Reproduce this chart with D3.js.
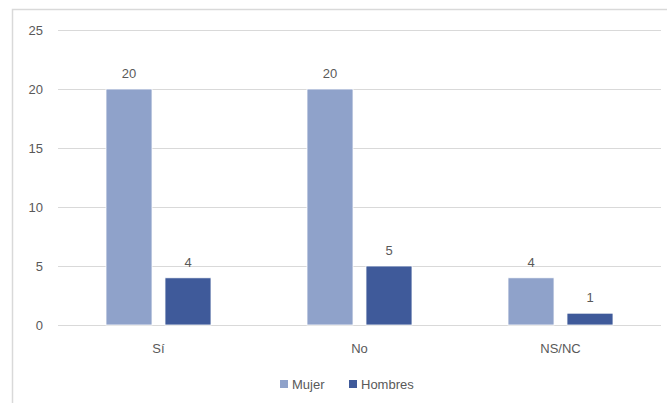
<!DOCTYPE html>
<html>
<head>
<meta charset="utf-8">
<script src="https://cdn.jsdelivr.net/npm/d3@7"></script>
<style>
  html, body { margin: 0; padding: 0; background: #fff; }
  svg { display: block; }
  text { font-family: "Liberation Sans", Arial, sans-serif; fill: #595959; }
</style>
</head>
<body>
<svg id="chart" width="667" height="403"></svg>
<script>
const categories = ["Sí", "No", "NS/NC"];
const seriesNames = ["Mujer", "Hombres"];
const mujer = [20, 20, 4];
const hombres = [4, 5, 1];
const yTicks = [0, 5, 10, 15, 20, 25];
const colors = ["#8FA2CA", "#3F5A9A"];

const svg = d3.select("#chart");
const W = 667, H = 403;
const FS = 13;

// chart frame
svg.append("rect")
  .attr("x", 12.5).attr("y", 9.5)
  .attr("width", W + 10).attr("height", H + 10)
  .attr("fill", "none").attr("stroke", "#d9d9d9").attr("stroke-width", 1.5);

const plot = { left: 58, right: 661, top: 30, bottom: 325 };

const y = d3.scaleLinear().domain([0, 25]).range([plot.bottom, plot.top]);
const x0 = d3.scaleBand().domain(categories).range([plot.left, plot.right]).padding(0);
const x1 = d3.scaleBand().domain(seriesNames)
  .range([48, x0.bandwidth() - 48]).paddingInner(0.22).paddingOuter(0);

// gridlines
svg.append("g").selectAll("line").data(yTicks).join("line")
  .attr("x1", plot.left).attr("x2", plot.right)
  .attr("y1", d => Math.round(y(d)) + 0.5).attr("y2", d => Math.round(y(d)) + 0.5)
  .attr("stroke", "#d9d9d9").attr("stroke-width", 1);

// y axis labels
const yAxis = d3.axisLeft(y).tickValues(yTicks).tickSize(0).tickPadding(0);
const ya = svg.append("g").attr("transform", `translate(43,0)`).call(yAxis);
ya.select(".domain").remove();
ya.selectAll("text").attr("font-size", FS).attr("fill", "#595959")
  .style("font-family", "'Liberation Sans', Arial, sans-serif");

// x axis labels
const xAxis = d3.axisBottom(x0).tickSize(0).tickPadding(0);
const xa = svg.append("g").attr("transform", `translate(0,344)`).call(xAxis);
xa.select(".domain").remove();
xa.selectAll("text").attr("font-size", FS).attr("fill", "#595959")
  .style("font-family", "'Liberation Sans', Arial, sans-serif");

// bars
const rows = categories.map((c, i) => ({ cat: c, vals: [mujer[i], hombres[i]] }));
const groups = svg.append("g").selectAll("g").data(rows).join("g")
  .attr("transform", d => `translate(${x0(d.cat)},0)`);

groups.selectAll("rect").data(d => d.vals.map((v, j) => ({ name: seriesNames[j], v, j })))
  .join("rect")
  .attr("x", d => x1(d.name))
  .attr("width", x1.bandwidth())
  .attr("y", d => y(d.v))
  .attr("height", d => y(0) - y(d.v))
  .attr("fill", d => colors[d.j])
  .attr("stroke", "#ffffff").attr("stroke-width", 0.8);

groups.selectAll("text.val").data(d => d.vals.map((v, j) => ({ name: seriesNames[j], v, j })))
  .join("text").attr("class", "val")
  .attr("x", d => x1(d.name) + x1.bandwidth() / 2)
  .attr("y", d => y(d.v) - 11)
  .attr("text-anchor", "middle")
  .attr("font-size", FS)
  .text(d => d.v);

// legend
const legend = svg.append("g").attr("transform", "translate(280,384)");
const items = [{ name: "Mujer", x: 0 }, { name: "Hombres", x: 69 }];
items.forEach((it, i) => {
  legend.append("rect").attr("x", it.x).attr("y", -4).attr("width", 8).attr("height", 8)
    .attr("fill", colors[i]);
  legend.append("text").attr("x", it.x + 12).attr("y", 4.5)
    .attr("font-size", FS).text(it.name);
});
</script>
</body>
</html>
